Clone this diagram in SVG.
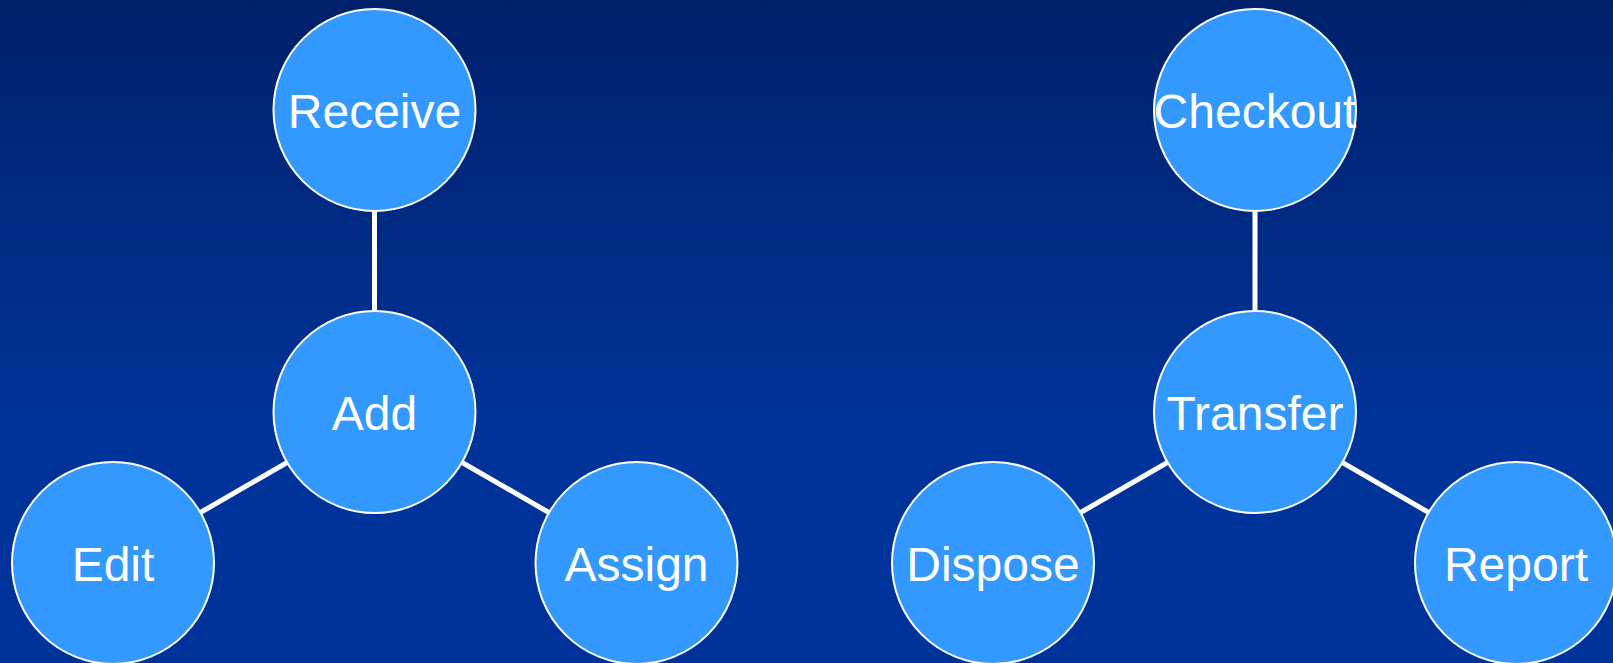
<svg xmlns="http://www.w3.org/2000/svg" width="1613" height="663" viewBox="0 0 1613 663">
<defs>
<linearGradient id="bg" x1="0" y1="0" x2="0" y2="1">
<stop offset="0" stop-color="#00216a"/>
<stop offset="0.65" stop-color="#003399"/>
<stop offset="1" stop-color="#003399"/>
</linearGradient>
<style>
.node circle{fill:#3399ff;stroke:#ffffff;stroke-width:2}
.node text{fill:#ffffff;font-family:"Liberation Sans",Arial,sans-serif;font-size:48px;text-anchor:middle}
.conn line{stroke:#ffffff;stroke-width:5}
</style>
</defs>
<rect width="1613" height="663" fill="url(#bg)"/>
<g id="connectors" class="conn">
<line x1="374.5" y1="110" x2="374.5" y2="412"/>
<line x1="374.5" y1="412" x2="113" y2="563"/>
<line x1="374.5" y1="412" x2="636.5" y2="563"/>
<line x1="1255" y1="110" x2="1255" y2="412"/>
<line x1="1255" y1="412" x2="993" y2="563"/>
<line x1="1255" y1="412" x2="1516" y2="563"/>
</g>
<g id="receive" class="node"><circle cx="374.5" cy="110" r="101"/><text x="374.5" y="127.5">Receive</text></g>
<g id="add" class="node"><circle cx="374.5" cy="412" r="101"/><text x="374.5" y="430">Add</text></g>
<g id="edit" class="node"><circle cx="113" cy="563" r="101"/><text x="113" y="581">Edit</text></g>
<g id="assign" class="node"><circle cx="636.5" cy="563" r="101"/><text x="636.5" y="581">Assign</text></g>
<g id="checkout" class="node"><circle cx="1255" cy="110" r="101"/><text x="1255" y="127.5">Checkout</text></g>
<g id="transfer" class="node"><circle cx="1255" cy="412" r="101"/><text x="1255" y="430">Transfer</text></g>
<g id="dispose" class="node"><circle cx="993" cy="563" r="101"/><text x="993" y="581">Dispose</text></g>
<g id="report" class="node"><circle cx="1516" cy="563" r="101"/><text x="1516" y="581">Report</text></g>
</svg>
